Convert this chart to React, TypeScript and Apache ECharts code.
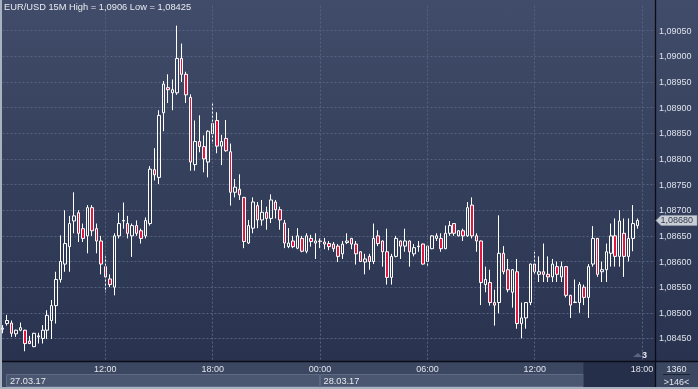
import React, { useEffect, useRef } from "react";
import * as echarts from "echarts";

// 15-minute bars, first bar 27.03.17 06:15
const START_MINUTES = 6 * 60 + 15;
const STEP_MINUTES = 15;
const SLOT_COUNT = 147;

const opens = [
  1.08468, 1.08479, 1.0848, 1.08459, 1.08466, 1.08466, 1.08445, 1.08434, 1.08453, 1.0845,
  1.08466, 1.08485, 1.08514, 1.08565, 1.08595, 1.08629, 1.08679, 1.08695, 1.08664, 1.0865,
  1.08705, 1.08664, 1.0864, 1.0859, 1.08566, 1.0855, 1.0865, 1.08679, 1.08674, 1.0865,
  1.0867, 1.0866, 1.0865, 1.08674, 1.08779, 1.08764, 1.0889, 1.08939, 1.08929, 1.08929,
  1.08996, 1.08965, 1.0892, 1.08789, 1.08834, 1.08824, 1.08794, 1.08849, 1.08875, 1.08825,
  1.0884, 1.08814, 1.08735, 1.08741, 1.08725, 1.08636, 1.08665, 1.08709, 1.08681, 1.08696,
  1.08684, 1.08716, 1.08701, 1.08675, 1.08629, 1.0864, 1.08626, 1.08645, 1.0862, 1.08645,
  1.08636, 1.0864, 1.08638, 1.08635, 1.08634, 1.0863, 1.08615, 1.08637, 1.08645, 1.08634,
  1.08619, 1.08599, 1.0861, 1.086, 1.0865, 1.0864, 1.08619, 1.08569, 1.0861, 1.0864,
  1.0863, 1.0864, 1.08615, 1.08629, 1.08634, 1.086, 1.08625, 1.08645, 1.08645, 1.08625,
  1.08655, 1.08674, 1.0865, 1.0866, 1.0865, 1.0871, 1.0865, 1.0864, 1.08555, 1.08559,
  1.0852, 1.0852, 1.08616, 1.08584, 1.0854, 1.0858, 1.08479, 1.0849, 1.0852, 1.08595,
  1.08575, 1.0858, 1.08575, 1.0857, 1.0859, 1.0857, 1.0859, 1.08534, 1.0852, 1.0852,
  1.0855, 1.0853, 1.08595, 1.08645, 1.0858, 1.08584, 1.08616, 1.0865, 1.0861, 1.08655,
  1.0861, 1.08645, 1.0867,
];
const closes = [
  1.0847, 1.08485, 1.0846, 1.08466, 1.08471, 1.0844, 1.0844, 1.0846, 1.08455, 1.08466,
  1.08495, 1.08514, 1.08565, 1.086, 1.08635, 1.08674, 1.08689, 1.08655, 1.08645, 1.08705,
  1.0866, 1.0864, 1.08595, 1.0857, 1.08555, 1.0865, 1.08674, 1.0868, 1.08655, 1.0867,
  1.08655, 1.08645, 1.0868, 1.0878, 1.08769, 1.08885, 1.08946, 1.08935, 1.08935, 1.08996,
  1.08965, 1.08925, 1.08794, 1.08834, 1.08824, 1.088, 1.08854, 1.08869, 1.08825, 1.08834,
  1.08816, 1.08735, 1.08745, 1.0873, 1.08639, 1.0867, 1.08716, 1.08681, 1.08696, 1.08684,
  1.0872, 1.08701, 1.08681, 1.08636, 1.08636, 1.08629, 1.0865, 1.0862, 1.0865, 1.08639,
  1.0864, 1.08639, 1.08634, 1.08629, 1.08625, 1.0861, 1.08634, 1.0864, 1.08634, 1.08615,
  1.086, 1.08605, 1.086, 1.08645, 1.08635, 1.08619, 1.08569, 1.0861, 1.08645, 1.0863,
  1.0864, 1.08619, 1.08627, 1.0863, 1.08595, 1.0863, 1.0865, 1.0865, 1.08625, 1.08655,
  1.0867, 1.08655, 1.0866, 1.0865, 1.08705, 1.0865, 1.0864, 1.08559, 1.08565, 1.0852,
  1.08515, 1.08616, 1.0858, 1.08545, 1.08584, 1.08479, 1.0849, 1.0852, 1.08595, 1.0858,
  1.0858, 1.08575, 1.0857, 1.08595, 1.08575, 1.0859, 1.08534, 1.08515, 1.08521, 1.08555,
  1.0853, 1.0859, 1.08645, 1.08575, 1.08584, 1.08619, 1.0865, 1.0861, 1.08679, 1.0861,
  1.08645, 1.08674, 1.0868,
];
const lows = [
  1.0846, 1.08475, 1.08453, 1.08453, 1.08464, 1.08425, 1.08439, 1.08433, 1.0844, 1.0844,
  1.08449, 1.08449, 1.08479, 1.08559, 1.0858, 1.0858, 1.08655, 1.08638, 1.08638, 1.08616,
  1.0865, 1.08616, 1.08575, 1.0854, 1.0855, 1.08534, 1.08645, 1.08664, 1.08645, 1.08609,
  1.0865, 1.08635, 1.08645, 1.0867, 1.08758, 1.08751, 1.08854, 1.08909, 1.08895, 1.08925,
  1.0895, 1.08909, 1.08777, 1.08777, 1.08813, 1.08774, 1.08764, 1.0883, 1.08811, 1.08788,
  1.08814, 1.08709, 1.08725, 1.0872, 1.08626, 1.08634, 1.08655, 1.08665, 1.0867, 1.08662,
  1.08675, 1.08684, 1.08662, 1.08626, 1.08626, 1.08626, 1.08624, 1.08618, 1.08616, 1.08629,
  1.08605, 1.08626, 1.08624, 1.08622, 1.08619, 1.08599, 1.08605, 1.08634, 1.08624, 1.08594,
  1.08599, 1.08575, 1.08584, 1.08595, 1.0863, 1.0859, 1.08555, 1.08555, 1.08608, 1.08605,
  1.08619, 1.0859, 1.0861, 1.08619, 1.08594, 1.0859, 1.08624, 1.0864, 1.08619, 1.08624,
  1.0865, 1.0865, 1.08649, 1.0864, 1.08648, 1.08645, 1.08619, 1.08515, 1.0854, 1.08514,
  1.08475, 1.08499, 1.08575, 1.0854, 1.0851, 1.08469, 1.0845, 1.08469, 1.08515, 1.08575,
  1.0856, 1.0856, 1.0856, 1.0856, 1.0856, 1.0856, 1.0853, 1.0849, 1.08519, 1.085,
  1.08515, 1.0849, 1.0859, 1.0857, 1.0856, 1.0856, 1.0859, 1.0859, 1.0859, 1.0857,
  1.086, 1.0862, 1.08664,
];
const highs = [
  1.08476, 1.08496, 1.08485, 1.08467, 1.08481, 1.08467, 1.08455, 1.08461, 1.08461, 1.08476,
  1.08505, 1.08525, 1.0858, 1.08651, 1.087, 1.08689, 1.08735, 1.087, 1.08674, 1.0871,
  1.0871, 1.08674, 1.0865, 1.0861, 1.08575, 1.08655, 1.08695, 1.08715, 1.08689, 1.08674,
  1.0868, 1.08664, 1.08686, 1.08786, 1.08821, 1.08895, 1.08952, 1.08965, 1.08955, 1.0906,
  1.09025, 1.0897, 1.08926, 1.08875, 1.08885, 1.08846, 1.08856, 1.0891, 1.08891, 1.08847,
  1.08876, 1.0883, 1.08761, 1.0877, 1.08726, 1.08681, 1.08725, 1.08716, 1.0872, 1.08707,
  1.08731, 1.0872, 1.08707, 1.08681, 1.08665, 1.0865, 1.08665, 1.0865, 1.08655, 1.08652,
  1.08655, 1.08645, 1.08646, 1.0864, 1.08638, 1.08634, 1.0864, 1.08655, 1.08646, 1.0864,
  1.0862, 1.08615, 1.08615, 1.08674, 1.08661, 1.08641, 1.08664, 1.08615, 1.0865, 1.08641,
  1.08664, 1.08641, 1.08634, 1.0864, 1.08635, 1.08631, 1.08651, 1.08655, 1.08655, 1.0867,
  1.08679, 1.08675, 1.08661, 1.08664, 1.08716, 1.08725, 1.08655, 1.08641, 1.0859, 1.08584,
  1.08545, 1.0869, 1.0863, 1.08605, 1.08585, 1.08605, 1.0852, 1.08521, 1.08596, 1.08619,
  1.0861, 1.08635, 1.0861, 1.08605, 1.086, 1.086, 1.08591, 1.08535, 1.08565, 1.0856,
  1.08555, 1.08595, 1.08669, 1.08646, 1.086, 1.08635, 1.08674, 1.08684, 1.087, 1.08684,
  1.08684, 1.0871, 1.08684,
];

const TITLE = "EUR/USD 15M High = 1,0906 Low = 1,08425";
const DATE_LABELS = ["27.03.17", "28.03.17"];
const BAR_COUNT_TEXT = "1360";
const VISIBLE_TEXT = ">146<";
const SHIFT_TEXT = "3";
const Y_MIN = 1.08406;
const Y_MAX = 1.09099;
const Y_STEP = 0.0005;

function buildCategories(): string[] {
  const out: string[] = [];
  for (let i = 0; i < SLOT_COUNT; i++) {
    const m = (START_MINUTES + i * STEP_MINUTES) % 1440;
    const h = Math.floor(m / 60);
    const mm = m % 60;
    out.push(String(h).padStart(2, "0") + ":" + String(mm).padStart(2, "0"));
  }
  return out;
}

const fmt = (v: number) => v.toFixed(5).replace(".", ",");
const FONT = "'Liberation Sans', Arial, sans-serif";

export default function App() {
  const ref = useRef<HTMLDivElement>(null);
  useEffect(() => {
    if (!ref.current) return;
    const chart = echarts.init(ref.current, undefined, { renderer: "svg" });
    const categories = buildCategories();
    const candles = opens.map((o, i) => [o, closes[i], lows[i], highs[i]]);
    const isMajor = (_i: number, v: string) => /^(00|06|12|18):00$/.test(v);
    const lastIdx = closes.length - 1;
    const shiftStartIdx = 130; // start of the dimmed (shifted) region

    const baseGraphic: any[] = [
      { id: "frame", type: "rect", z: -30, shape: { x: 0, y: 0, width: 698, height: 389 }, style: { fill: "#a9b2c0" }, silent: true },
      {
        id: "bg", type: "rect", z: -29, shape: { x: 2, y: 0, width: 696, height: 361 }, silent: true,
        style: { fill: new echarts.graphic.LinearGradient(0, 0, 0, 1, [ { offset: 0, color: "#404c69" }, { offset: 1, color: "#29334f" } ]) },
      },
      { id: "botrow", type: "rect", z: -28, shape: { x: 2, y: 361, width: 696, height: 26 }, style: { fill: "#3b4661" }, silent: true },
      { id: "topline", type: "line", z: 50, shape: { x1: 2, y1: 361.5, x2: 698, y2: 361.5 }, style: { stroke: "#0a0d16", lineWidth: 1.3 }, silent: true },
      { id: "vline", type: "line", z: 50, shape: { x1: 655.5, y1: 0, x2: 655.5, y2: 387 }, style: { stroke: "#0a0d16", lineWidth: 1.3 }, silent: true },
      { id: "title", type: "text", z: 60, x: 4, y: 2, style: { text: TITLE, fill: "#e8ebf0", font: "9.3px " + FONT } },
      { id: "cnt", type: "text", z: 60, x: 676.5, y: 364, style: { text: BAR_COUNT_TEXT, fill: "#e3e7ee", font: "9px " + FONT, align: "center" } },
      { id: "cntline", type: "line", z: 60, shape: { x1: 663, y1: 374.5, x2: 690, y2: 374.5 }, style: { stroke: "#1b2233", lineWidth: 1 } },
      { id: "vis", type: "text", z: 60, x: 676.5, y: 377, style: { text: VISIBLE_TEXT, fill: "#e3e7ee", font: "9px " + FONT, align: "center" } },
      { id: "shiftTri", type: "polygon", z: 60, shape: { points: [[633, 357], [642, 357], [638, 353]] }, style: { fill: "#5a6784" } },
      { id: "shiftTxt", type: "text", z: 60, x: 642, y: 350, style: { text: SHIFT_TEXT, fill: "#e3e7ee", font: "bold 9px " + FONT } },
    ];

    const option: any = {
      animation: false,
      grid: { left: 2.5, top: 5.6, width: 653, height: 355.4, containLabel: false },
      xAxis: {
        type: "category",
        data: categories,
        boundaryGap: false,
        axisLine: { show: false },
        axisTick: { show: false },
        axisLabel: {
          interval: isMajor,
          margin: 3,
          fontSize: 9,
          fontFamily: FONT,
          color: (_v: string, idx: number) => (idx >= shiftStartIdx ? "#7e8aa2" : "#dfe3ea"),
        },
        splitLine: { show: true, interval: isMajor, lineStyle: { color: "#56627f", type: [2, 2], width: 1 } },
        z: 40,
      },
      yAxis: {
        type: "value",
        position: "right",
        scale: true,
        min: Y_MIN,
        max: Y_MAX,
        splitNumber: 14,
        minInterval: Y_STEP,
        maxInterval: Y_STEP,
        axisLine: { show: false },
        axisTick: { show: false },
        axisLabel: {
          showMinLabel: false,
          showMaxLabel: false,
          margin: 3.5,
          fontSize: 9,
          fontFamily: FONT,
          color: "#dde2ea",
          formatter: (v: number) => (v < 1.0844 || v > 1.0906 ? "" : fmt(v)),
        },
        splitLine: { show: true, showMinLine: false, showMaxLine: false, lineStyle: { color: "#56627f", type: [2, 2], width: 1 } },
      },
      series: [
        {
          type: "candlestick",
          data: candles,
          barWidth: 3,
          itemStyle: {
            color: "transparent",
            color0: "#e3163f",
            borderColor: "#ffffff",
            borderColor0: "#ffffff",
            borderWidth: 1,
          },
        },
      ],
      graphic: baseGraphic,
    };
    chart.setOption(option);

    const px = (i: number) => chart.convertToPixel({ xAxisIndex: 0 }, i) as number;
    const midnight = categories.findIndex((c, i) => i > 0 && c === "00:00");
    const xMid = px(midnight);
    const xShift = px(shiftStartIdx) - 0.5;
    const yLast = chart.convertToPixel({ yAxisIndex: 0 }, closes[lastIdx]) as number;

    const extra: any[] = [
      { id: "d1", type: "rect", z: -27, shape: { x: 6.5, y: 374.5, width: xMid - 7, height: 12 }, style: { fill: "#4b5771", stroke: "#5f6b85", lineWidth: 1 } },
      { id: "d2", type: "rect", z: -27, shape: { x: xMid + 0.5, y: 374.5, width: xShift - xMid - 0.5, height: 12 }, style: { fill: "#4b5771", stroke: "#5f6b85", lineWidth: 1 } },
      { id: "shiftbox", type: "rect", z: -26, shape: { x: xShift, y: 362, width: 655 - xShift, height: 25 }, style: { fill: "#262f4a" } },
      { id: "d1t", type: "text", z: 60, x: 10, y: 376, style: { text: DATE_LABELS[0], fill: "#e6e9ee", font: "9.2px " + FONT } },
      { id: "d2t", type: "text", z: 60, x: xMid + 3.5, y: 376, style: { text: DATE_LABELS[1], fill: "#e6e9ee", font: "9.2px " + FONT } },
      { id: "tagArrow", type: "polygon", z: 70, shape: { points: [[656, yLast], [661, yLast - 5], [697, yLast - 5], [697, yLast + 5], [661, yLast + 5]] }, style: { fill: "#c9ced6", stroke: "#9aa2b0", lineWidth: 0.6 } },
      { id: "tagTxt", type: "text", z: 71, x: 660.5, y: yLast - 5, style: { text: fmt(closes[lastIdx]), fill: "#343b4c", font: "9px " + FONT } },
    ];
    chart.setOption({ graphic: baseGraphic.concat(extra) });

    return () => chart.dispose();
  }, []);
  return <div ref={ref} style={{ position: "fixed", left: 0, top: 0, width: 698, height: 389 }} />;
}
